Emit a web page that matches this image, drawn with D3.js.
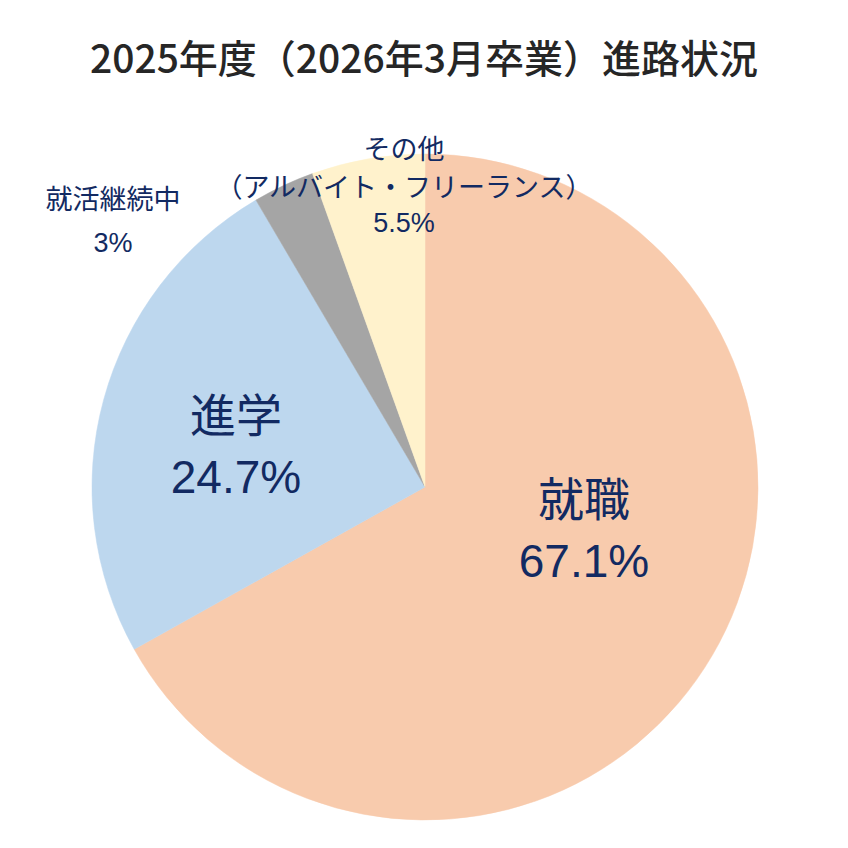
<!DOCTYPE html>
<html>
<head>
<meta charset="utf-8">
<script src="https://cdn.jsdelivr.net/npm/d3@7"></script>
<style>
  html, body { margin: 0; padding: 0; background: #fff; }
  svg { display: block; }
</style>
</head>
<body>
<div id="chart"></div>
<script>
// data
const categories = ["就職", "進学", "就活継続中", "その他"];
const subNotes = ["", "", "", "（アルバイト・フリーランス）"];
const values = [67.1, 24.7, 3, 5.5];
const valueLabels = ["67.1%", "24.7%", "3%", "5.5%"];
const colors = ["#F8CBAD", "#BDD7EE", "#A5A5A5", "#FFF2CC"];

const width = 848, height = 848;
const cx = 425, cy = 487, r = 333;
const jp = "'Noto Sans CJK JP', 'Noto Sans', sans-serif";
const num = "'Liberation Sans', Arial, sans-serif";
const textColor = "#122A62";

let svg = d3.select("#chart").append("svg")
    .attr("width", width)
    .attr("height", height)
    .attr("viewBox", [0, 0, width, height]);

svg.append("text")
    .attr("x", 424)
    .attr("y", 73)
    .attr("text-anchor", "middle")
    .attr("font-family", jp)
    .attr("font-size", 39)
    .attr("font-weight", 500)
    .attr("fill", "#262626")
    .text("2025年度（2026年3月卒業）進路状況");

let pie = d3.pie().sort(null).value(d => d);
let arc = d3.arc().innerRadius(0).outerRadius(r);
let arcs = pie(values);

let g = svg.append("g").attr("transform", `translate(${cx},${cy})`);
g.selectAll("path")
    .data(arcs)
    .join("path")
    .attr("d", arc)
    .attr("fill", (d, i) => colors[i])
    .attr("stroke", (d, i) => colors[i])
    .attr("stroke-width", 0.5);

// label anchors: x, baseline of each line, font size
const labelPos = [
    {x: 584, ys: [516, 577], size: 46},
    {x: 236, ys: [432, 493], size: 46},
    {x: 113, ys: [209, 252], size: 27},
    {x: 404, ys: [159, 197, 232], size: 27}
];

labelPos.forEach((p, i) => {
    let lines = [categories[i]];
    if (subNotes[i]) lines.push(subNotes[i]);
    let t = svg.append("text")
        .attr("text-anchor", "middle")
        .attr("fill", textColor)
        .attr("font-size", p.size);
    lines.forEach((ln, k) => {
        t.append("tspan")
            .attr("x", p.x)
            .attr("y", p.ys[k])
            .attr("font-family", jp)
            .text(ln);
    });
    t.append("tspan")
        .attr("x", p.x)
        .attr("y", p.ys[lines.length])
        .attr("font-family", num)
        .text(valueLabels[i]);
});
</script>
</body>
</html>
